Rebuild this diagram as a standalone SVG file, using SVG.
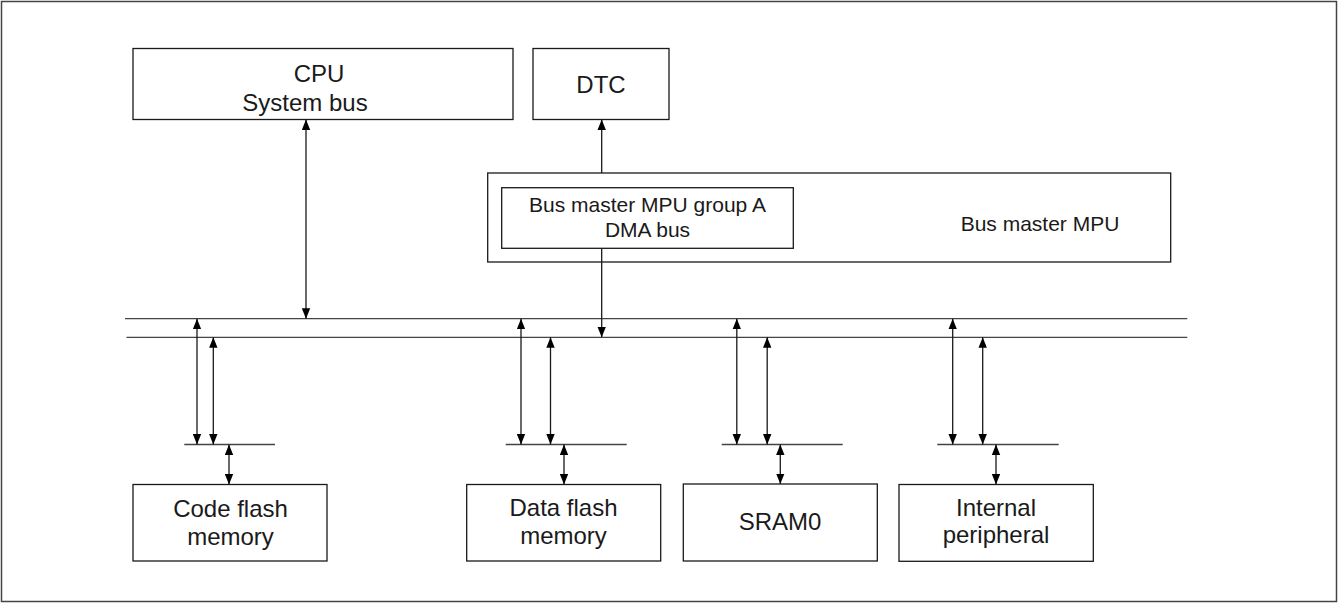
<svg xmlns="http://www.w3.org/2000/svg" width="1339" height="604" viewBox="0 0 1339 604">
<defs>
<marker id="ah" viewBox="0 0 10 8" refX="10" refY="4" markerWidth="10.5" markerHeight="9" markerUnits="userSpaceOnUse" orient="auto-start-reverse">
<path d="M0,0 L10,4 L0,8 z" fill="#000"/>
</marker>
<style>
.box{fill:#fff;stroke:#1a1a1a;stroke-width:1.3}
.frame{fill:#fff;stroke:#444;stroke-width:1.5}
.bus{stroke:#444;stroke-width:1.3;fill:none}
.ln{stroke:#1a1a1a;stroke-width:1.3;fill:none}
.a2{marker-start:url(#ah);marker-end:url(#ah)}
.a1{marker-end:url(#ah)}
text{font-family:"Liberation Sans",Arial,sans-serif;fill:#1a1a1a;text-anchor:middle}
.t24{font-size:24px}
.t21{font-size:21px}
</style>
</defs>
<rect class="frame" x="1.5" y="1.5" width="1335" height="600"/>

<g id="cpu">
<rect class="box" x="133" y="48.5" width="380" height="71"/>
<text class="t24" x="319" y="82">CPU</text>
<text class="t24" x="305" y="111">System bus</text>
</g>

<g id="dtc">
<rect class="box" x="533" y="48.5" width="136" height="71"/>
<text class="t24" x="601" y="93">DTC</text>
</g>

<g id="busmastermpu">
<rect class="box" x="487.7" y="173" width="683" height="89"/>
<text class="t21" x="1040" y="231">Bus master MPU</text>
</g>

<g id="groupA">
<rect class="box" x="501.7" y="187.7" width="291.6" height="60.6"/>
<text class="t21" x="647.5" y="211.5">Bus master MPU group A</text>
<text class="t21" x="647.5" y="236.5">DMA bus</text>
</g>

<g id="codeflash">
<rect class="box" x="133" y="484.5" width="194" height="76.5"/>
<text class="t24" x="230.5" y="517">Code flash</text>
<text class="t24" x="230.5" y="545">memory</text>
</g>

<g id="dataflash">
<rect class="box" x="466.7" y="484.5" width="194" height="76.5"/>
<text class="t24" x="563.5" y="516">Data flash</text>
<text class="t24" x="563.5" y="544">memory</text>
</g>

<g id="sram0">
<rect class="box" x="683.3" y="484" width="194" height="77"/>
<text class="t24" x="780" y="529.5">SRAM0</text>
</g>

<g id="peripheral">
<rect class="box" x="899" y="484.5" width="194.3" height="76.8"/>
<text class="t24" x="996" y="515.5">Internal</text>
<text class="t24" x="996" y="543">peripheral</text>
</g>

<g id="connectors">
<line class="bus" x1="125" y1="318.7" x2="1187.3" y2="318.7"/>
<line class="bus" x1="126.5" y1="337.3" x2="1187.3" y2="337.3"/>
<line class="bus" x1="184.3" y1="444.5" x2="275" y2="444.5"/>
<line class="bus" x1="505.7" y1="444.5" x2="626.7" y2="444.5"/>
<line class="bus" x1="721.7" y1="444.5" x2="842.7" y2="444.5"/>
<line class="bus" x1="937.3" y1="444.5" x2="1058.7" y2="444.5"/>

<line class="ln a2" x1="306" y1="119.5" x2="306" y2="318.7"/>
<line class="ln a1" x1="601.7" y1="173" x2="601.7" y2="119.5"/>
<line class="ln a1" x1="601.7" y1="248.3" x2="601.7" y2="337.3"/>

<line class="ln a2" x1="197" y1="318.7" x2="197" y2="444.5"/>
<line class="ln a2" x1="213.3" y1="337.3" x2="213.3" y2="444.5"/>
<line class="ln a2" x1="229" y1="444.5" x2="229" y2="484.5"/>

<line class="ln a2" x1="521" y1="318.7" x2="521" y2="444.5"/>
<line class="ln a2" x1="550.5" y1="337.3" x2="550.5" y2="444.5"/>
<line class="ln a2" x1="564" y1="444.5" x2="564" y2="484.5"/>

<line class="ln a2" x1="736.8" y1="318.7" x2="736.8" y2="444.5"/>
<line class="ln a2" x1="767.2" y1="337.3" x2="767.2" y2="444.5"/>
<line class="ln a2" x1="780.3" y1="444.5" x2="780.3" y2="484"/>

<line class="ln a2" x1="952.7" y1="318.7" x2="952.7" y2="444.5"/>
<line class="ln a2" x1="982.7" y1="337.3" x2="982.7" y2="444.5"/>
<line class="ln a2" x1="996" y1="444.5" x2="996" y2="484.5"/>
</g>
</svg>
